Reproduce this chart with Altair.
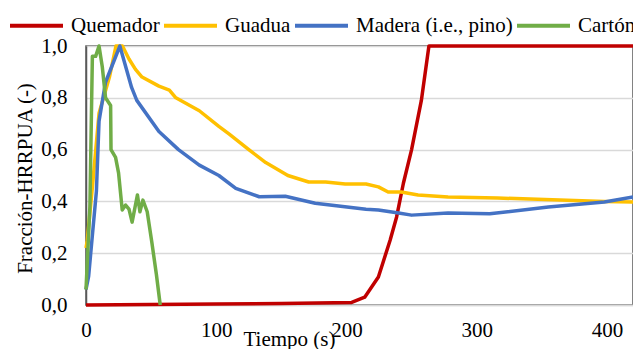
import altair as alt
import pandas as pd

series_names = ["Quemador", "Guadua", "Madera (i.e., pino)", "Cartón"]
series_colors = ["#C00000", "#FFC000", "#4472C4", "#70AD47"]

quem_t = [0, 50, 100, 150, 204, 214, 224.5, 233.5, 238.5, 243.7, 250, 257.5, 263.3, 300, 350, 420]
quem_v = [0, 0.002, 0.004, 0.006, 0.01, 0.03, 0.108, 0.25, 0.34, 0.47, 0.60, 0.79, 1.0, 1.0, 1.0, 1.0]

guad_t = [0, 1, 5, 10, 18, 23, 28, 33, 38, 43, 56, 64, 69, 87, 102, 110, 125, 138, 155, 171, 184, 199,
          215, 224.5, 232, 242, 255, 278, 316, 398, 420]
guad_v = [0.22, 0.25, 0.46, 0.74, 0.88, 1.0, 1.0, 0.95, 0.91, 0.88, 0.845, 0.83, 0.80, 0.75, 0.69, 0.66,
          0.60, 0.55, 0.50, 0.475, 0.475, 0.467, 0.467, 0.456, 0.436, 0.436, 0.425, 0.417, 0.413, 0.40, 0.398]

mad_t = [0, 2, 8, 10, 15, 26, 35, 39, 56, 71, 87, 102, 115, 133, 153, 176, 215, 224.5, 240, 250, 278,
         310, 355, 398, 420]
mad_v = [0.06, 0.11, 0.44, 0.71, 0.86, 1.0, 0.84, 0.79, 0.67, 0.60, 0.54, 0.50, 0.45, 0.418, 0.42, 0.393,
         0.37, 0.367, 0.355, 0.347, 0.355, 0.352, 0.378, 0.398, 0.417]

cart_t = [0, 3, 4.9, 7.4, 10, 12.5, 15, 18.9, 19.2, 22.7, 25, 27.8, 30.4, 33, 35.4, 39.5, 41.4, 43.7,
          47, 50.6, 54, 57]
cart_v = [0.06, 0.38, 0.96, 0.96, 1.0, 0.92, 0.80, 0.77, 0.60, 0.57, 0.51, 0.367, 0.386, 0.37, 0.32,
          0.425, 0.36, 0.405, 0.36, 0.24, 0.12, 0.0]

rows = []
for name, ts, vs in zip(series_names, [quem_t, guad_t, mad_t, cart_t], [quem_v, guad_v, mad_v, cart_v]):
    for i, (t, v) in enumerate(zip(ts, vs)):
        rows.append({"serie": name, "t": t, "v": v, "i": i})
df = pd.DataFrame(rows)

FONT = "Liberation Serif"

chart = alt.Chart(df).mark_line(strokeWidth=3.5, strokeJoin="round", strokeCap="butt").encode(
    x=alt.X("t:Q", scale=alt.Scale(domain=[0, 420], nice=False, zero=False),
            axis=alt.Axis(values=[0, 100, 200, 300, 400], title="Tiempo (s)", grid=False,
                          ticks=False, tickSize=0, labelPadding=31, labelBaseline="alphabetic",
                          labelFlush=False, domainColor="#d9d9d9", domainWidth=1.5,
                          titleX=203, titleY=40, titleBaseline="alphabetic", titleAlign="center")),
    y=alt.Y("v:Q", scale=alt.Scale(domain=[0, 1], nice=False),
            axis=alt.Axis(values=[0, 0.2, 0.4, 0.6, 0.8, 1.0], title="Fracción-HRRPUA (-)",
                          labelExpr="replace(format(datum.value, '.1f'), '.', ',')",
                          ticks=False, tickSize=0, labelPadding=19, domainColor="#595959", domainWidth=1.5,
                          gridColor="#d9d9d9", gridWidth=1.5,
                          titleX=-55, titleY=132, titleAngle=270, titleBaseline="alphabetic",
                          titleAlign="center")),
    color=alt.Color("serie:N", scale=alt.Scale(domain=series_names, range=series_colors),
                    sort=series_names,
                    legend=alt.Legend(title=None, orient="none", legendX=-78, legendY=-49,
                                      direction="horizontal", columns=4, symbolType="stroke",
                                      symbolSize=2809, symbolStrokeWidth=4, labelOffset=6,
                                      columnPadding=-4, padding=0, labelFont=FONT, labelFontSize=21,
                                      labelColor="black", labelLimit=300)),
    order="i:Q",
).properties(
    width=547, height=259,
    autosize=alt.AutoSizeParams(type="none"),
    padding={"left": 78, "top": 38, "right": 0, "bottom": 44},
).configure_axis(
    labelFont=FONT, labelFontSize=21, labelColor="black",
    titleFont=FONT, titleFontSize=21, titleColor="black", titleFontWeight="normal",
).configure_view(
    stroke="#595959", strokeWidth=1.5,
)

chart.save("out.html", embed_options={"renderer": "svg", "actions": False})
